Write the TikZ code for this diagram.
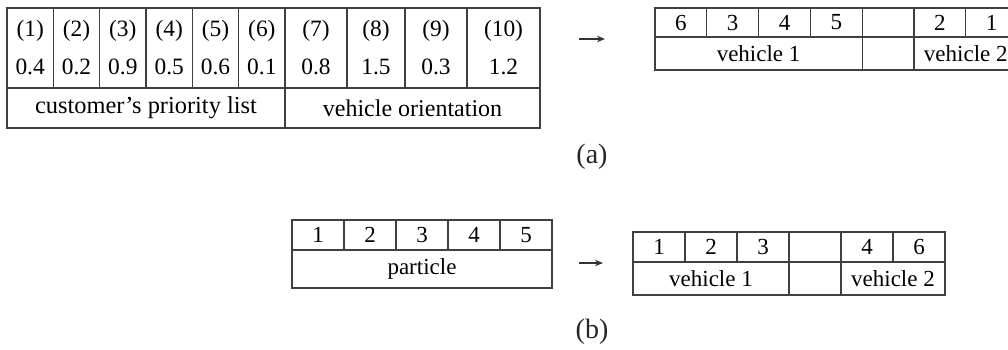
\documentclass[tikz,border=0pt]{standalone}
\usepackage{fontspec}
\setmainfont{Liberation Serif}
\usetikzlibrary{positioning, arrows.meta}

\begin{document}
\begin{tikzpicture}[
        cell/.style={draw=black!75, line width=0.6pt, inner sep=0pt, outer sep=0pt,
            minimum width=25.9pt, minimum height=15pt, font=\fontsize{11.5}{14}\selectfont},
        gene/.style={cell, minimum width=23.17pt, minimum height=40pt, align=center,
            font=\fontsize{11.7}{19}\selectfont},
        sublabel/.style={font=\fontsize{14}{16}\selectfont, text=black!85},
        >={Stealth[length=4pt, width=3.2pt]}
    ]

        \useasboundingbox (0pt,0pt) rectangle (504pt,-174.5pt);

        % (a) priority list + vehicle orientation
        \node[gene, anchor=north west] (c1) at (3.5pt,-4pt) {(1)\\0.4};
        \node[gene] (c2) [right=0pt of c1] {(2)\\0.2};
        \node[gene] (c3) [right=0pt of c2] {(3)\\0.9};
        \node[gene] (c4) [right=0pt of c3] {(4)\\0.5};
        \node[gene] (c5) [right=0pt of c4] {(5)\\0.6};
        \node[gene] (c6) [right=0pt of c5] {(6)\\0.1};
        \node[gene, minimum width=31pt] (c7) [right=0pt of c6] {(7)\\0.8};
        \node[gene, minimum width=29pt] (c8) [right=0pt of c7] {(8)\\1.5};
        \node[gene, minimum width=31pt] (c9) [right=0pt of c8] {(9)\\0.3};
        \node[gene, minimum width=36.5pt] (c10) [right=0pt of c9] {(10)\\1.2};
        \node[cell, anchor=north west, minimum width=139pt, minimum height=20pt, font=\fontsize{12.2}{14}\selectfont] (prio) at (c1.south west) {customer’s priority list};
        \node[cell, anchor=north west, minimum width=127.5pt, minimum height=20pt, font=\fontsize{12}{14}\selectfont] (orient) at (c7.south west) {vehicle orientation};

        \node[cell, anchor=north west, minimum height=14.5pt] (r1) at (327.5pt,-4pt) {6};
        \node[cell, minimum height=14.5pt] (r2) [right=0pt of r1] {3};
        \node[cell, minimum height=14.5pt] (r3) [right=0pt of r2] {4};
        \node[cell, minimum height=14.5pt] (r4) [right=0pt of r3] {5};
        \node[cell, minimum height=14.5pt] (r5) [right=0pt of r4] {};
        \node[cell, minimum height=14.5pt] (r6) [right=0pt of r5] {2};
        \node[cell, minimum height=14.5pt] (r7) [right=0pt of r6] {1};
        \node[cell, anchor=north west, minimum width=103.6pt, minimum height=16.5pt] (rv1) at (r1.south west) {vehicle 1};
        \node[cell, anchor=north west, minimum height=16.5pt] (rgap) at (r5.south west) {};
        \node[cell, anchor=north west, minimum width=51.8pt, minimum height=16.5pt] (rv2) at (r6.south west) {vehicle 2};

        % (b) particle
        \node[cell, anchor=north west, minimum width=26pt] (p1) at (146pt,-110pt) {1};
        \node[cell, minimum width=26pt] (p2) [right=0pt of p1] {2};
        \node[cell, minimum width=26pt] (p3) [right=0pt of p2] {3};
        \node[cell, minimum width=26pt] (p4) [right=0pt of p3] {4};
        \node[cell, minimum width=26pt] (p5) [right=0pt of p4] {5};
        \node[cell, anchor=north west, minimum width=130pt, minimum height=19pt] (part) at (p1.south west) {particle};

        \node[cell, anchor=north west, minimum width=26pt] (s1) at (316.5pt,-116pt) {1};
        \node[cell, minimum width=26pt] (s2) [right=0pt of s1] {2};
        \node[cell, minimum width=26pt] (s3) [right=0pt of s2] {3};
        \node[cell, minimum width=26pt] (s4) [right=0pt of s3] {};
        \node[cell, minimum width=26pt] (s5) [right=0pt of s4] {4};
        \node[cell, minimum width=26pt] (s6) [right=0pt of s5] {6};
        \node[cell, anchor=north west, minimum width=78pt, minimum height=16.5pt] (sv1) at (s1.south west) {vehicle 1};
        \node[cell, anchor=north west, minimum width=26pt, minimum height=16.5pt] (sgap) at (s4.south west) {};
        \node[cell, anchor=north west, minimum width=52pt, minimum height=16.5pt] (sv2) at (s5.south west) {vehicle 2};

        % arrows and sub-captions
        \coordinate (ta) at (289.5pt,-19.5pt);
        \coordinate (tb) at (302.5pt,-19.5pt);
        \coordinate (ba) at (289.5pt,-131.5pt);
        \coordinate (bb) at (301.5pt,-131.5pt);
        \node[sublabel] (la) at (296pt,-78.5pt) {(a)};
        \node[sublabel] (lb) at (296pt,-166pt) {(b)};

        \path[->, black!80, line width=0.6pt]
        (ta) edge (tb)
        (ba) edge (bb);

    \end{tikzpicture}
\end{document}
